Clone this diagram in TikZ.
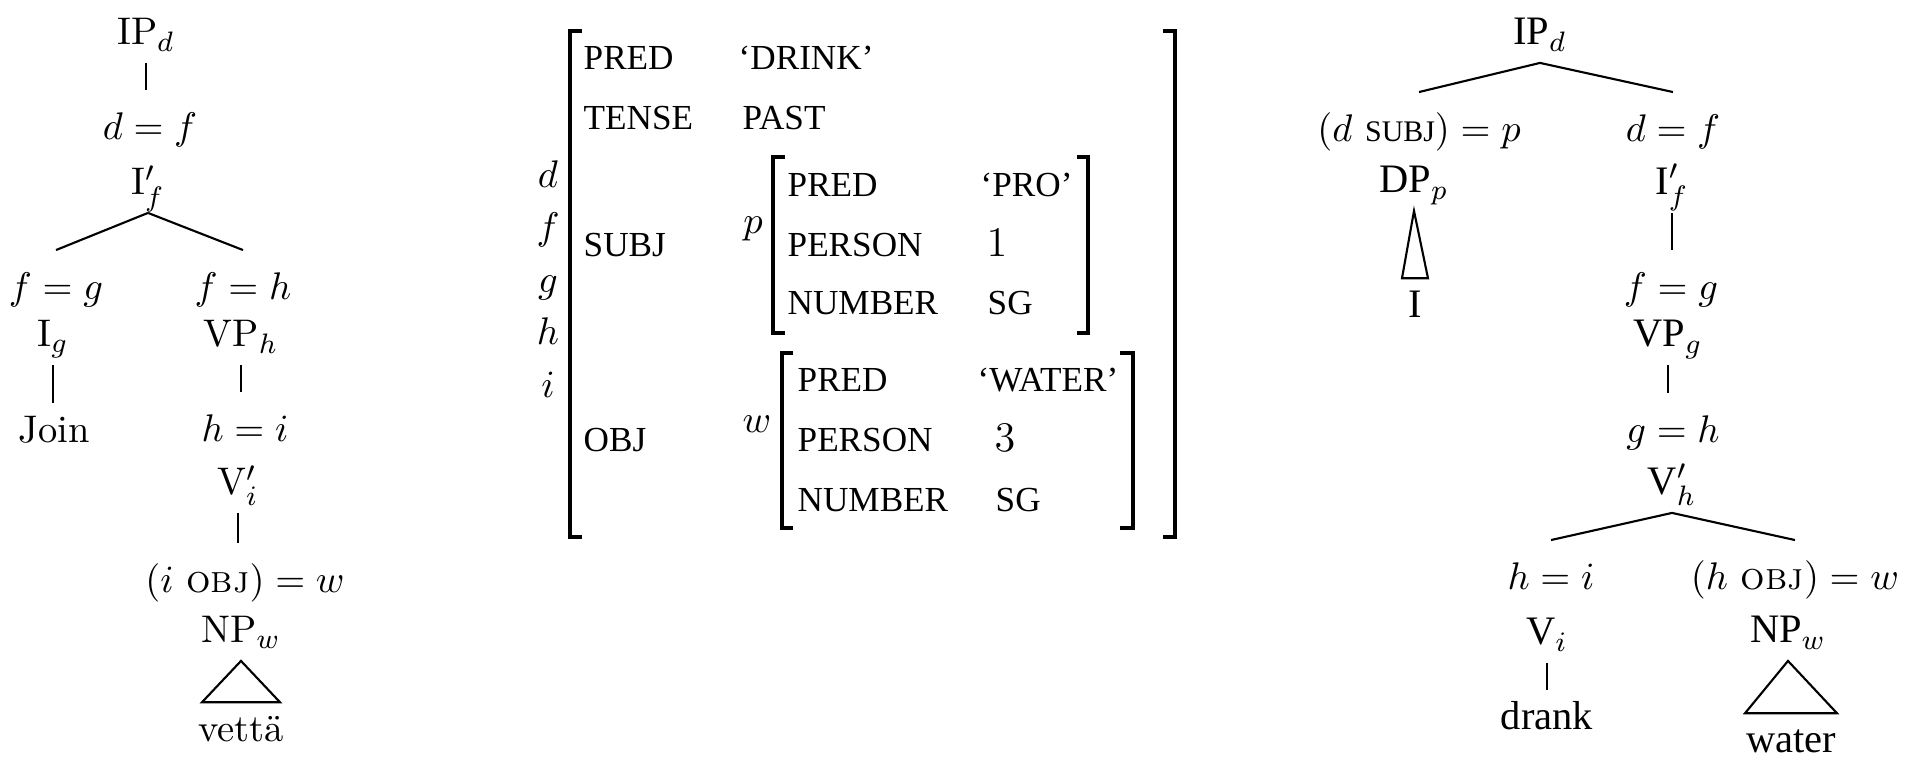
\documentclass[tikz,border=0pt]{standalone}
\usepackage{fontspec}
\usepackage{tikz}
\usetikzlibrary{calc}
\newfontfamily\timesfont{Liberation Serif}
\tikzset{
	% tree labels
	cat/.style={anchor=base, inner sep=0pt, text height=7.7pt, text depth=1.5pt, outer ysep=3.6pt, font=\fontsize{10.95}{13}\selectfont},
	cattimes/.style={cat, font=\timesfont\fontsize{11.5}{13}\selectfont},
	eq/.style={anchor=base, inner sep=0pt, text height=7.7pt, text depth=2pt, outer ysep=6.5pt, font=\fontsize{10.95}{13}\selectfont},
	leaf/.style={anchor=base, inner sep=0pt, text height=7.7pt, text depth=2pt, outer ysep=3.6pt, font=\fontsize{10.95}{13}\selectfont},
	leaftimes/.style={leaf, font=\timesfont\fontsize{11.5}{13}\selectfont},
	branch/.style={line width=0.6pt},
	% f-structure
	feat/.style={anchor=base west, inner sep=0pt, font=\timesfont\fontsize{10}{12}\selectfont},
	fvar/.style={anchor=base, inner sep=0pt, font=\fontsize{10.95}{13}\selectfont},
	fnum/.style={anchor=base, inner sep=0pt, font=\fontsize{11.5}{13}\selectfont},
	fbracket/.style={line width=0.9pt}
}
\begin{document}
\begin{tikzpicture}[x=0.01cm, y=-0.01cm]
	\useasboundingbox (0,0) rectangle (1920,765);
	% c-structure, left
	\node [cat] (ip1) at (146,45) {IP$_d$};
	\node [eq]  (df1) at (150,140) {$d=f$};
	\node [cat] (ib1) at (148,195) {I$'_f$};
	\node [eq]  (fg1) at (56,300) {$f=g$};
	\node [eq]  (fh1) at (243,300) {$f=h$};
	\node [cat] (ig1) at (53,347) {I$_g$};
	\node [cat] (vp1) at (241,347) {VP$_h$};
	\node [leaf] (jo1) at (54,443) {Join};
	\node [eq]  (hi1) at (245,442) {$h=i$};
	\node [cat] (vb1) at (238,495) {V$'_i$};
	\node [eq]  (io1) at (245,593) {$(i\ \textsc{obj})=w$};
	\node [cat] (np1) at (241,643) {NP$_w$};
	\node [leaf] (ve1) at (241,742) {vettä};
	\draw [branch] (ip1.south) -- (ip1.south |- df1.north);
	\draw [branch] (ib1.south) -- (fg1.north);
	\draw [branch] (ib1.south) -- (fh1.north);
	\draw [branch] (ig1.south) -- (ig1.south |- jo1.north);
	\draw [branch] (vp1.south) -- (vp1.south |- hi1.north);
	\draw [branch] (vb1.south) -- (vb1.south |- io1.north);
	\draw [branch] (np1.south) -- ($(ve1.north)+(-39,0)$) -- ($(ve1.north)+(39,0)$) -- cycle;
	% f-structure
	\node [fvar] (vd) at (548,188) {$d$};
	\node [fvar] (vf) at (548,240) {$f$};
	\node [fvar] (vg) at (548,293) {$g$};
	\node [fvar] (vh) at (548,345) {$h$};
	\node [fvar] (vi) at (548,398) {$i$};
	\draw [fbracket] (582,31) -- (570,31) -- (570,537) -- (582,537);
	\draw [fbracket] (1163,31) -- (1175,31) -- (1175,537) -- (1163,537);
	\node [feat] (pred0) at (583,70) {PRED};
	\node [feat] (drink) at (738,70) {‘DRINK’};
	\node [feat] (tense) at (583,130) {TENSE};
	\node [feat] (past) at (742,130) {PAST};
	\node [feat] (subj) at (583,257) {SUBJ};
	\node [feat] (obj) at (583,452) {OBJ};
	% SUBJ value
	\node [fvar] (vp) at (753,234) {$p$};
	\draw [fbracket] (785,157) -- (773,157) -- (773,333) -- (785,333);
	\draw [fbracket] (1077,157) -- (1088,157) -- (1088,333) -- (1077,333);
	\node [feat] (pred1) at (787,197) {PRED};
	\node [feat] (pro) at (980,197) {‘PRO’};
	\node [feat] (pers1) at (787,257) {PERSON};
	\node [fnum] (one) at (997,257) {$1$};
	\node [feat] (num1) at (787,315) {NUMBER};
	\node [feat] (sg1) at (987,315) {SG};
	% OBJ value
	\node [fvar] (vw) at (757,433) {$w$};
	\draw [fbracket] (793,353) -- (782,353) -- (782,528) -- (793,528);
	\draw [fbracket] (1120,353) -- (1133,353) -- (1133,528) -- (1120,528);
	\node [feat] (pred2) at (797,392) {PRED};
	\node [feat] (water) at (977,392) {‘WATER’};
	\node [feat] (pers2) at (797,452) {PERSON};
	\node [fnum] (three) at (1005,452) {$3$};
	\node [feat] (num2) at (797,512) {NUMBER};
	\node [feat] (sg2) at (995,512) {SG};
	% c-structure, right
	\node [cattimes] (ip2) at (1540,45) {IP$_d$};
	\node [eq] (ds2) at (1419,142) {$(d$ \mbox{\timesfont\fontsize{8.5}{10}\selectfont SUBJ}$)=p$};
	\node [eq] (df2) at (1673,142) {$d=f$};
	\node [cattimes] (dp2) at (1414,193) {DP$_p$};
	\node [leaftimes] (i2) at (1415,318) {I};
	\node [cattimes] (ib2) at (1672,195) {I$'_f$};
	\node [eq] (fg2) at (1671,300) {$f=g$};
	\node [cattimes] (vp2) at (1668,347) {VP$_g$};
	\node [eq] (gh2) at (1673,443) {$g=h$};
	\node [cattimes] (vb2) at (1672,495) {V$'_h$};
	\node [eq] (hi2) at (1551,590) {$h=i$};
	\node [eq] (ho2) at (1795,590) {$(h\ \textsc{obj})=w$};
	\node [cattimes] (vi2) at (1547,645) {V$_i$};
	\node [cattimes] (np2) at (1788,643) {NP$_w$};
	\node [leaftimes] (dr2) at (1547,730) {drank};
	\node [leaftimes] (wa2) at (1791,753) {water};
	\draw [branch] (ip2.south) -- (ds2.north);
	\draw [branch] (ip2.south) -- (df2.north);
	\draw [branch] (dp2.south) -- ($(i2.north)+(-13,0)$) -- ($(i2.north)+(13,0)$) -- cycle;
	\draw [branch] (ib2.south) -- (ib2.south |- fg2.north);
	\draw [branch] (vp2.south) -- (vp2.south |- gh2.north);
	\draw [branch] (vb2.south) -- (hi2.north);
	\draw [branch] (vb2.south) -- (ho2.north);
	\draw [branch] (vi2.south) -- (vi2.south |- dr2.north);
	\draw [branch] (np2.south) -- ($(wa2.north)+(-46,0)$) -- ($(wa2.north)+(46,0)$) -- cycle;
\end{tikzpicture}
\end{document}
